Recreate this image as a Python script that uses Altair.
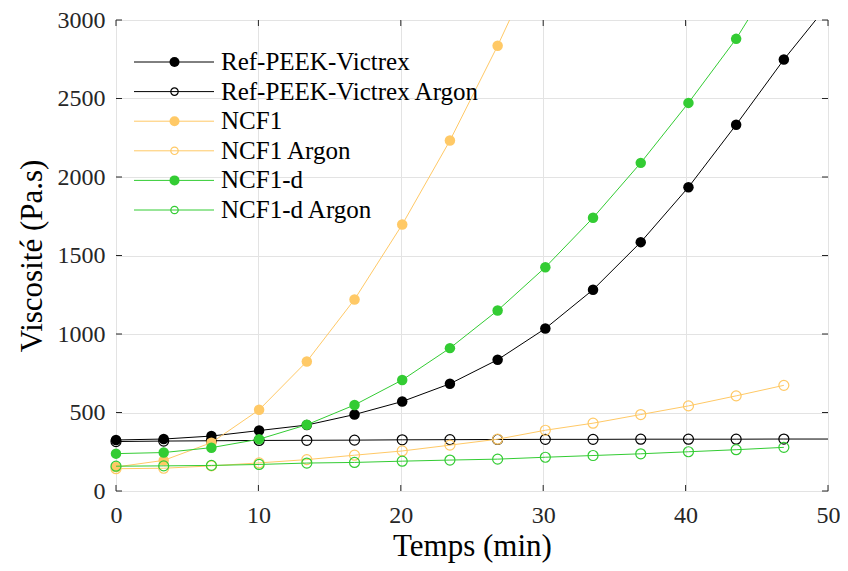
import altair as alt
import pandas as pd

# ---- data ----
time_min = [0, 3.35, 6.7, 10.05, 13.4, 16.75, 20.1, 23.45, 26.8, 30.15, 33.5, 36.85, 40.2, 43.55, 46.9, 50.25]

ref_peek = [325, 331, 350, 385, 420, 487, 570, 683, 836, 1035, 1282, 1585, 1935, 2333, 2748, 3125]
ref_peek_argon = [315, 318, 320, 322, 323, 324, 326, 327, 328, 329, 329, 330, 330, 330, 331, 331]
ncf1 = [153, 195, 308, 517, 825, 1220, 1697, 2232, 2836, 3490]
ncf1_argon = [142, 145, 160, 179, 200, 228, 255, 292, 330, 387, 432, 487, 542, 606, 673]
ncf1_d = [238, 245, 276, 330, 422, 548, 707, 910, 1150, 1425, 1740, 2090, 2472, 2880, 3370]
ncf1_d_argon = [158, 160, 163, 169, 178, 182, 190, 197, 203, 215, 226, 237, 250, 263, 278]

series_names = ["Ref-PEEK-Victrex", "Ref-PEEK-Victrex Argon", "NCF1", "NCF1 Argon", "NCF1-d", "NCF1-d Argon"]
series_values = [ref_peek, ref_peek_argon, ncf1, ncf1_argon, ncf1_d, ncf1_d_argon]
series_colors = ["#000000", "#000000", "#FFC966", "#FFC966", "#33CC33", "#33CC33"]
series_filled = [True, False, True, False, True, False]

x_ticks = [0, 10, 20, 30, 40, 50]
y_ticks = [0, 500, 1000, 1500, 2000, 2500, 3000]

W, H = 712, 471
FONT = "Liberation Serif"
AX = "#262626"

xscale = alt.Scale(domain=[0, 50], nice=False, zero=False)
yscale = alt.Scale(domain=[0, 3000], nice=False)

layers = []
for name, vals, col, filled in zip(series_names, series_values, series_colors, series_filled):
    df = pd.DataFrame({"t": time_min[:len(vals)], "v": vals, "s": name})
    line = alt.Chart(df).mark_line(color=col, strokeWidth=1, clip=True).encode(
        x=alt.X("t:Q", scale=xscale), y=alt.Y("v:Q", scale=yscale))
    pts_df = df[(df.t <= 50) & (df.v <= 3000)]
    if filled:
        pts = alt.Chart(pts_df).mark_point(shape="circle", filled=True, fill=col, color=col,
                                           size=110, opacity=1, strokeWidth=0)
    else:
        pts = alt.Chart(pts_df).mark_point(shape="circle", filled=False, color=col,
                                           size=100, opacity=1, strokeWidth=1.2)
    pts = pts.encode(x=alt.X("t:Q", scale=xscale), y=alt.Y("v:Q", scale=yscale))
    layers += [line, pts]

# axes (grid + labels), frame from view stroke
base_axes = alt.Chart(pd.DataFrame({"t": [0], "v": [0]})).mark_point(opacity=0).encode(
    x=alt.X("t:Q", scale=xscale, title="Temps (min)",
            axis=alt.Axis(values=x_ticks, grid=True, gridColor="#E3E3E3", gridWidth=1,
                          ticks=False, domain=False, labelFont=FONT, labelFontSize=24,
                          labelFlush=False, format="d",
                          labelColor=AX, labelPadding=12, titleFont=FONT, titleFontSize=31,
                          titleFontWeight="normal", titleColor="#000000", titlePadding=4)),
    y=alt.Y("v:Q", scale=yscale, title="Viscosité (Pa.s)",
            axis=alt.Axis(values=y_ticks, grid=True, gridColor="#E3E3E3", gridWidth=1,
                          ticks=False, domain=False, labelFont=FONT, labelFontSize=24,
                          labelFlush=False, format="d",
                          labelColor=AX, labelPadding=11, titleFont=FONT, titleFontSize=31,
                          titleFontWeight="normal", titleColor="#000000", titlePadding=9)),
)

# inward tick marks on all four sides
xt = pd.DataFrame({"t": x_ticks})
yt = pd.DataFrame({"v": y_ticks})
tick_layers = [
    alt.Chart(xt).mark_rule(color=AX, strokeWidth=1).encode(
        x=alt.X("t:Q", scale=xscale), y=alt.value(H), y2=alt.value(H - 6)),
    alt.Chart(xt).mark_rule(color=AX, strokeWidth=1).encode(
        x=alt.X("t:Q", scale=xscale), y=alt.value(0), y2=alt.value(6)),
    alt.Chart(yt).mark_rule(color=AX, strokeWidth=1).encode(
        y=alt.Y("v:Q", scale=yscale), x=alt.value(0), x2=alt.value(6)),
    alt.Chart(yt).mark_rule(color=AX, strokeWidth=1).encode(
        y=alt.Y("v:Q", scale=yscale), x=alt.value(W), x2=alt.value(W - 6)),
]

# legend drawn inside the plot (pixel positions)
leg = pd.DataFrame({
    "label": series_names,
    "color": series_colors,
    "filled": series_filled,
    "row": list(range(6)),
})
leg["ly"] = 42 + leg["row"] * 29.6
leg["x1"] = 18
leg["x2"] = 98
leg["xm"] = 58.5
leg["xt"] = 105

legend_layers = [
    alt.Chart(leg).mark_rule(strokeWidth=1).encode(
        x=alt.X("x1:Q", scale=None), x2="x2:Q", y=alt.Y("ly:Q", scale=None),
        color=alt.Color("color:N", scale=None)),
    alt.Chart(leg[leg.filled]).mark_point(shape="circle", filled=True, size=100, opacity=1, strokeWidth=0).encode(
        x=alt.X("xm:Q", scale=None), y=alt.Y("ly:Q", scale=None),
        color=alt.Color("color:N", scale=None)),
    alt.Chart(leg[~leg.filled]).mark_point(shape="circle", filled=False, size=55, opacity=1, strokeWidth=1.2).encode(
        x=alt.X("xm:Q", scale=None), y=alt.Y("ly:Q", scale=None),
        color=alt.Color("color:N", scale=None)),
    alt.Chart(leg).mark_text(align="left", baseline="middle", font=FONT, fontSize=25, color="#000000").encode(
        x=alt.X("xt:Q", scale=None), y=alt.Y("ly:Q", scale=None), text="label:N"),
]

chart = alt.layer(base_axes, *layers, *tick_layers, *legend_layers).properties(
    width=W, height=H,
    autosize=alt.AutoSizeParams(type="none"),
    padding={"left": 108, "top": 12, "right": 12, "bottom": 72},
).configure_view(stroke=AX, strokeWidth=1).configure(background="white")

chart.save("out.html", embed_options={"renderer": "svg", "actions": False})
